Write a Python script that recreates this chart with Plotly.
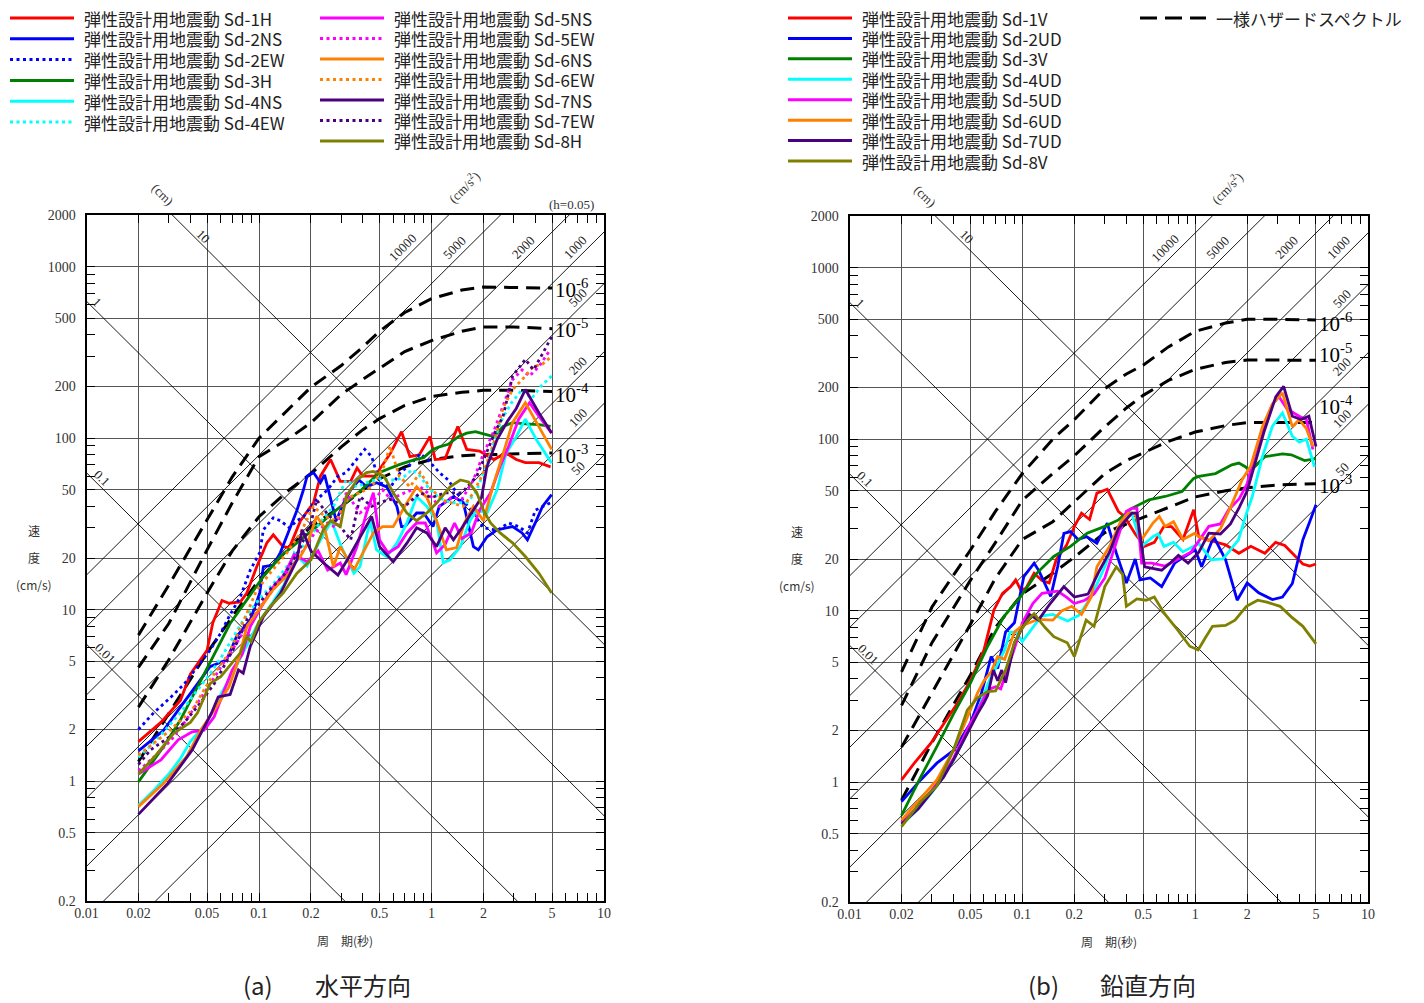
import math
import plotly.graph_objects as go

# screen size and the page's default body margin
SCREEN_W, SCREEN_H = 1424, 1003
BODY = 8
W, H = SCREEN_W - BODY, SCREEN_H - BODY

# ------------------------------------------------------------------ data
# uniform hazard spectra (period s, pseudo velocity cm/s)
hz_T = [0.02, 0.03, 0.05, 0.07, 0.1, 0.15, 0.2, 0.3, 0.4, 0.5, 0.7, 1.0, 1.5, 2.0, 3.0, 5.0]
hz_h_1e6 = [7.1, 13.9, 33.4, 59.5, 100, 150, 198, 265, 340, 420, 540, 650, 730, 760, 755, 750]
hz_h_1e5 = [4.6, 8.3, 22.3, 42, 78, 100, 123, 180, 220, 255, 320, 370, 420, 445, 445, 435]
hz_h_1e4 = [2.7, 5.1, 12.5, 22, 34.8, 50, 62, 89, 112, 130, 155, 175, 185, 190, 190, 187]
hz_h_1e3 = [1.3, 2.5, 5.6, 9.1, 14.9, 23, 30.5, 40, 50, 58, 68, 75, 79, 80, 81, 82]
hz_v_1e6 = [4.4, 10.5, 22.5, 38, 63, 100, 130, 197, 240, 270, 345, 425, 475, 500, 500, 495]
hz_v_1e5 = [2.8, 6.5, 15, 25, 44, 63, 80, 118, 152, 180, 220, 255, 280, 289, 289, 288]
hz_v_1e4 = [1.6, 3.3, 8.3, 15.5, 26, 33, 43, 63, 75, 83, 97, 110, 120, 125, 125, 125]
hz_v_1e3 = [0.785, 1.7, 4.2, 8, 12.5, 16.5, 20.5, 28.5, 32, 35, 40, 46, 50, 52, 54, 55]
hz_labels = ["10<sup>-6</sup>", "10<sup>-5</sup>", "10<sup>-4</sup>", "10<sup>-3</sup>"]

# horizontal spectra
sd1h_T = [0.02, 0.027, 0.035, 0.04, 0.05, 0.054, 0.061, 0.067, 0.078, 0.085, 0.097, 0.111, 0.121, 0.138, 0.15, 0.174, 0.207, 0.227, 0.26, 0.296, 0.34, 0.37, 0.4, 0.47, 0.58, 0.67, 0.75, 0.85, 0.98, 1.05, 1.2, 1.42, 1.6, 1.9, 2.3, 2.7, 3.1, 3.5, 4.2, 4.9]
sd1h_V = [1.70, 2.2, 2.95, 4.2, 5.8, 8.4, 11.3, 10.9, 11.1, 12.5, 17.8, 24.5, 27.3, 23.3, 23, 33, 42, 60, 75, 56, 56, 67, 60, 60, 82, 109, 78, 80, 102, 75, 76, 117, 86, 84, 75, 82, 75, 72, 72, 68]
sd2ns_T = [0.02, 0.028, 0.035, 0.044, 0.052, 0.065, 0.074, 0.089, 0.101, 0.106, 0.121, 0.133, 0.148, 0.166, 0.181, 0.19, 0.207, 0.227, 0.24, 0.26, 0.28, 0.31, 0.34, 0.38, 0.42, 0.48, 0.55, 0.63, 0.67, 0.7, 0.82, 0.9, 1.02, 1.11, 1.34, 1.53, 1.64, 1.75, 1.87, 2.1, 2.4, 2.95, 3.35, 3.6, 4.05, 4.4, 4.97]
sd2ns_V = [1.5, 1.98, 2.7, 3.7, 4.65, 5.1, 6.95, 8.7, 12.5, 17.8, 18.2, 21.5, 28, 38, 50, 60, 63, 55, 61, 44, 33, 42, 50, 57, 52, 55, 52, 40, 30.5, 30.5, 36.6, 36.6, 30.5, 40, 45.6, 42, 30.5, 23.3, 22.3, 26.6, 29.2, 30.5, 28, 25.5, 33, 40, 46.8]
sd2ew_T = [0.02, 0.0245, 0.031, 0.037, 0.044, 0.052, 0.06, 0.067, 0.078, 0.089, 0.101, 0.106, 0.121, 0.133, 0.15, 0.166, 0.181, 0.215, 0.25, 0.287, 0.32, 0.37, 0.41, 0.45, 0.5, 0.58, 0.66, 0.75, 0.86, 0.95, 1.11, 1.25, 1.4, 1.75, 2.0, 2.4, 2.8, 3.2, 3.6, 4.0, 4.9]
sd2ew_V = [2.0, 2.5, 3.1, 3.7, 4.65, 5.8, 7.3, 9.1, 11.9, 17, 21.5, 29.2, 34.3, 33, 30, 33, 34.8, 43.6, 50, 60, 63, 75, 86, 78, 55, 52, 63, 70, 81, 75, 63, 57, 48, 36.6, 30, 29, 32, 30.5, 28, 38, 42]
sd3h_T = [0.02, 0.028, 0.035, 0.044, 0.055, 0.068, 0.085, 0.106, 0.133, 0.166, 0.216, 0.28, 0.385, 0.5, 0.65, 0.8, 0.9, 1.02, 1.11, 1.25, 1.43, 1.6, 1.8, 2.0, 2.3, 2.6, 2.95, 3.5, 4.2, 4.9]
sd3h_V = [0.99, 1.59, 2.27, 3.55, 5.56, 8.3, 11.4, 15.6, 20.4, 24.4, 30.5, 38, 49, 63, 70, 75, 77, 86, 89, 92, 102, 107, 109, 106, 102, 117, 123, 121, 120, 117]
sd4ns_T = [0.02, 0.025, 0.03, 0.035, 0.04, 0.05, 0.06, 0.07, 0.08, 0.09, 0.1, 0.12, 0.14, 0.16, 0.19, 0.22, 0.263, 0.3, 0.355, 0.385, 0.44, 0.48, 0.55, 0.63, 0.72, 0.82, 0.94, 1.07, 1.17, 1.28, 1.47, 1.67, 1.83, 2.1, 2.4, 2.7, 3.1, 3.5, 4.05, 4.97]
sd4ns_V = [0.72, 0.9, 1.1, 1.35, 1.7, 2.2, 3.2, 4.2, 5.5, 7, 8.5, 11, 14, 21.4, 18, 24, 33, 23.3, 16.3, 17.8, 33, 22.3, 20.4, 24.4, 32, 45.6, 40, 33, 18.7, 19.5, 23.3, 33, 38, 36.6, 50, 81, 102, 129, 98, 71.5]
sd4ew_T = [0.02, 0.025, 0.03, 0.035, 0.04, 0.05, 0.06, 0.07, 0.08, 0.09, 0.1, 0.12, 0.14, 0.17, 0.2, 0.23, 0.27, 0.32, 0.37, 0.42, 0.5, 0.57, 0.63, 0.7, 0.77, 0.86, 0.95, 1.1, 1.3, 1.6, 1.8, 2.1, 2.5, 2.9, 3.35, 3.8, 4.3, 4.97]
sd4ew_V = [1.38, 1.7, 2.1, 2.5, 3.0, 4.0, 5.2, 6.8, 8.5, 10, 11.5, 14, 17, 22, 27, 33, 40, 57, 52, 55, 58, 57, 57, 60, 65.5, 60, 52, 45, 42, 42, 48, 70, 123, 160, 192, 170, 200, 230]
sd5ns_T = [0.02, 0.027, 0.034, 0.041, 0.048, 0.055, 0.064, 0.07, 0.08, 0.089, 0.106, 0.121, 0.14, 0.16, 0.19, 0.22, 0.25, 0.296, 0.32, 0.37, 0.42, 0.46, 0.5, 0.56, 0.64, 0.72, 0.82, 0.92, 1.0, 1.07, 1.2, 1.36, 1.5, 1.7, 1.9, 2.2, 2.5, 2.8, 3.2, 3.7, 4.2, 4.97]
sd5ns_V = [1.1, 1.33, 1.74, 1.94, 1.98, 2.37, 3.55, 4.45, 5.5, 7.96, 10.9, 13.6, 16, 21, 19, 22, 17, 18.7, 16, 23.3, 36.6, 48, 25.5, 21.4, 23.3, 28, 32, 32, 26, 21.4, 24, 32, 26, 28, 38, 48, 68.5, 89.6, 129, 161, 134, 107]
sd5ew_T = [0.02, 0.025, 0.031, 0.037, 0.046, 0.055, 0.065, 0.075, 0.085, 0.1, 0.12, 0.15, 0.18, 0.21, 0.25, 0.28, 0.32, 0.385, 0.45, 0.52, 0.58, 0.7, 0.86, 0.95, 1.11, 1.3, 1.5, 1.75, 2.0, 2.3, 2.6, 2.95, 3.35, 3.7, 4.2, 4.9]
sd5ew_V = [1.15, 1.4, 1.74, 2.2, 3.05, 4.0, 5.2, 6.5, 8, 10, 13, 17, 22, 28, 32, 30, 48, 36.6, 42, 50, 44, 48, 52, 48, 40, 45, 44, 57, 81, 110, 153, 219, 250, 230, 262, 330]
sd6ns_T = [0.02, 0.028, 0.038, 0.046, 0.055, 0.067, 0.076, 0.085, 0.1, 0.12, 0.15, 0.16, 0.174, 0.19, 0.216, 0.24, 0.27, 0.296, 0.355, 0.43, 0.46, 0.52, 0.6, 0.7, 0.82, 0.94, 1.07, 1.22, 1.4, 1.55, 1.75, 2.0, 2.3, 2.6, 2.95, 3.5, 4.05, 4.97]
sd6ns_V = [0.71, 0.97, 1.39, 1.98, 2.6, 3.55, 5.1, 7.96, 10, 13, 16.3, 18.7, 20.4, 24, 35, 30, 17.8, 23.3, 17, 24.4, 28, 30.5, 30.5, 40, 52, 45, 33, 22.3, 23, 32, 40, 33, 54.8, 81, 123, 161, 123, 86]
sd6ew_T = [0.02, 0.025, 0.03, 0.035, 0.041, 0.052, 0.067, 0.085, 0.097, 0.12, 0.145, 0.174, 0.207, 0.24, 0.28, 0.33, 0.385, 0.45, 0.53, 0.575, 0.65, 0.75, 0.86, 1.0, 1.2, 1.53, 1.75, 2.0, 2.3, 2.6, 2.95, 3.35, 3.9, 4.4, 4.97]
sd6ew_V = [1.42, 1.7, 1.95, 2.25, 2.6, 3.9, 5.56, 9.5, 13, 17, 21.4, 28, 40, 35, 33, 45, 48, 52, 68.5, 89.6, 60, 52, 63, 50, 43, 40, 48, 62.9, 94, 150, 192, 219, 262, 270, 300]
sd7ns_T = [0.02, 0.0296, 0.041, 0.053, 0.058, 0.068, 0.076, 0.081, 0.089, 0.106, 0.133, 0.166, 0.178, 0.2, 0.237, 0.287, 0.33, 0.38, 0.45, 0.5, 0.6, 0.72, 0.82, 0.94, 1.07, 1.2, 1.34, 1.5, 1.75, 1.95, 2.1, 2.4, 2.75, 3.1, 3.5, 4.2, 4.97]
sd7ns_V = [0.64, 0.97, 1.52, 2.49, 3.1, 3.2, 4.45, 4.26, 6.1, 9.1, 12.4, 19.5, 29.2, 22, 18.7, 15.9, 20, 26, 34.9, 23.3, 19, 24.4, 30, 28, 23.3, 30, 25.5, 30, 38, 45, 68.5, 98, 125, 149, 192, 140, 107]
sd7ew_T = [0.02, 0.0235, 0.03, 0.037, 0.045, 0.055, 0.065, 0.075, 0.085, 0.097, 0.115, 0.14, 0.17, 0.2, 0.216, 0.25, 0.3, 0.34, 0.385, 0.45, 0.5, 0.575, 0.7, 0.86, 1.0, 1.2, 1.5, 1.83, 2.1, 2.35, 2.6, 2.95, 3.5, 3.9, 4.4, 4.97]
sd7ew_V = [1.25, 1.52, 1.8, 2.2, 2.8, 3.7, 5.0, 6.5, 8.7, 10.4, 13, 16, 22, 32, 43.6, 36, 30, 25.5, 45.6, 40, 42, 44, 40, 48, 45, 48, 48, 60, 85, 110, 134, 230, 288, 250, 310, 390]
sd8h_T = [0.02, 0.025, 0.032, 0.04, 0.044, 0.052, 0.06, 0.067, 0.078, 0.085, 0.09, 0.1, 0.116, 0.138, 0.166, 0.2, 0.236, 0.26, 0.296, 0.32, 0.37, 0.42, 0.46, 0.53, 0.6, 0.72, 0.82, 0.94, 1.07, 1.28, 1.47, 1.64, 1.83, 2.0, 2.2, 2.5, 2.95, 3.5, 4.2, 4.97]
sd8h_V = [1.1, 1.4, 1.9, 2.2, 2.5, 3.7, 4.06, 4.65, 5.6, 6.95, 6.5, 8.5, 10.4, 12.5, 16.3, 19.5, 29.2, 33, 30.5, 45.6, 57, 62.9, 64, 60, 48, 36.6, 33, 36.6, 41.8, 52, 57, 55.5, 48, 38, 32, 28, 24.5, 20.4, 16.3, 12.5]

# vertical spectra
sd1v_T = [0.02, 0.0237, 0.0295, 0.0353, 0.0421, 0.0503, 0.06, 0.0685, 0.0768, 0.0856, 0.0915, 0.098, 0.105, 0.117, 0.13, 0.143, 0.157, 0.18, 0.2, 0.22, 0.245, 0.27, 0.31, 0.36, 0.39, 0.45, 0.51, 0.58, 0.66, 0.73, 0.85, 0.98, 1.05, 1.2, 1.5, 1.79, 2.1, 2.53, 2.92, 3.3, 3.8, 4.2, 4.6, 5.0]
sd1v_V = [1.03, 1.29, 1.68, 2.2, 2.88, 3.94, 5.9, 10.1, 12.6, 13.8, 15.1, 13.2, 13.5, 16.5, 15, 14.5, 19.8, 24, 30.9, 37, 34, 48.4, 51, 37.8, 35.4, 28, 23.7, 25, 31, 30.9, 26, 38.7, 27, 25.8, 24.2, 21.6, 23.7, 21.6, 25, 24, 20.8, 18.7, 18.2, 18.7]
sd2ud_T = [0.02, 0.0258, 0.032, 0.04, 0.05, 0.058, 0.066, 0.072, 0.08, 0.09, 0.102, 0.117, 0.125, 0.146, 0.16, 0.174, 0.19, 0.21, 0.235, 0.27, 0.31, 0.35, 0.4, 0.45, 0.48, 0.55, 0.64, 0.76, 0.87, 1.0, 1.09, 1.28, 1.5, 1.75, 2.0, 2.33, 2.8, 3.2, 3.65, 4.2, 4.6, 5.0]
sd2ud_V = [0.77, 1.03, 1.29, 1.53, 2.2, 3.3, 5.4, 4.6, 7.5, 8.5, 15.8, 18.9, 17, 12.1, 18, 28.2, 28.9, 26, 27, 24.7, 32.4, 21.6, 14.5, 20, 15.1, 15.5, 13.8, 18.9, 20.7, 22.6, 18, 27, 19.8, 11.5, 14.5, 12.7, 11.6, 12.0, 14.4, 25.9, 33, 41.4]
sd3v_T = [0.02, 0.0258, 0.032, 0.04, 0.05, 0.063, 0.078, 0.098, 0.121, 0.152, 0.19, 0.237, 0.3, 0.36, 0.43, 0.54, 0.67, 0.84, 0.98, 1.05, 1.31, 1.63, 1.79, 1.95, 2.08, 2.53, 3.2, 3.6, 4.3, 5.0]
sd3v_V = [0.64, 1.07, 1.61, 2.5, 3.77, 6.2, 9.2, 12.1, 16.5, 20.7, 23.7, 28.3, 31, 33.8, 39.5, 44.3, 46.3, 49.5, 59, 60.6, 63, 70.8, 72.5, 69, 65, 79, 82, 81, 75, 77]
sd4ud_T = [0.02, 0.025, 0.03, 0.035, 0.04, 0.045, 0.05, 0.055, 0.06, 0.065, 0.07, 0.079, 0.085, 0.092, 0.1, 0.115, 0.129, 0.15, 0.183, 0.213, 0.25, 0.3, 0.35, 0.41, 0.43, 0.49, 0.57, 0.61, 0.66, 0.75, 0.85, 1.05, 1.24, 1.45, 1.78, 2.0, 2.14, 2.45, 2.8, 3.2, 3.65, 4.0, 4.4, 4.9]
sd4ud_V = [0.56, 0.7, 0.87, 1.07, 1.35, 1.7, 2.1, 2.6, 3.3, 4.0, 4.6, 5.9, 7.5, 7.5, 6.6, 8, 9.3, 9.5, 8.7, 9.4, 12, 18, 28, 37, 37, 23.7, 27, 28, 23.7, 25, 22, 24.6, 19.8, 20, 25.9, 38, 46.3, 79, 119, 142, 104, 96, 100, 69]
sd5ud_T = [0.02, 0.025, 0.03, 0.035, 0.04, 0.045, 0.05, 0.055, 0.06, 0.065, 0.07, 0.075, 0.08, 0.09, 0.1, 0.115, 0.13, 0.143, 0.16, 0.18, 0.2, 0.23, 0.26, 0.3, 0.35, 0.4, 0.43, 0.46, 0.49, 0.56, 0.67, 0.8, 0.95, 1.2, 1.4, 1.56, 1.8, 2.0, 2.2, 2.5, 2.8, 3.05, 3.4, 4.0, 4.4, 4.8]
sd5ud_V = [0.58, 0.72, 0.9, 1.1, 1.38, 1.75, 2.2, 2.6, 3.1, 3.5, 3.6, 3.5, 4.2, 6, 8.5, 11, 12.6, 12.8, 13, 12, 11, 11.5, 12.5, 15.5, 25, 38, 39.5, 39.6, 18.9, 18.9, 18.2, 20, 22, 31, 32, 38.7, 45, 55, 80, 120, 160, 177, 150, 136, 130, 87]
sd6ud_T = [0.02, 0.025, 0.032, 0.04, 0.048, 0.055, 0.06, 0.066, 0.072, 0.079, 0.09, 0.1, 0.124, 0.15, 0.17, 0.193, 0.22, 0.25, 0.27, 0.32, 0.37, 0.41, 0.45, 0.49, 0.57, 0.62, 0.67, 0.75, 0.85, 0.99, 1.05, 1.2, 1.4, 1.6, 1.87, 2.1, 2.45, 2.8, 3.2, 3.65, 4.0, 4.4, 4.8]
sd6ud_V = [0.6, 0.78, 1.03, 1.54, 2.4, 3.3, 3.9, 4.4, 5.4, 5.2, 7.5, 8.2, 8.9, 8.8, 10, 10.6, 9.5, 12, 18, 23.7, 33, 37, 37, 25.9, 32.4, 35.4, 31, 33, 26, 28.2, 27, 25.5, 30, 40, 58, 70, 118, 160, 186, 118, 130, 115, 90.6]
sd7ud_T = [0.02, 0.025, 0.03, 0.035, 0.04, 0.045, 0.05, 0.055, 0.06, 0.063, 0.068, 0.072, 0.076, 0.08, 0.09, 0.1, 0.11, 0.124, 0.145, 0.174, 0.2, 0.24, 0.28, 0.32, 0.36, 0.43, 0.46, 0.51, 0.64, 0.72, 0.8, 0.91, 1.05, 1.2, 1.4, 1.6, 1.8, 2.0, 2.2, 2.5, 2.93, 3.25, 3.65, 4.1, 4.55, 5.0]
sd7ud_V = [0.57, 0.7, 0.88, 1.07, 1.35, 1.7, 2.1, 2.5, 2.9, 3.2, 4.5, 3.9, 4.5, 3.8, 6.5, 8, 9.5, 8.8, 11, 13.8, 12, 12.5, 17.2, 22, 30, 37, 37, 18, 17.2, 19, 21, 18.9, 21.9, 28.3, 28, 32, 40, 50, 70, 110, 177, 203, 136, 130, 136, 90.6]
sd8v_T = [0.02, 0.0258, 0.032, 0.04, 0.048, 0.055, 0.063, 0.07, 0.08, 0.09, 0.098, 0.108, 0.117, 0.135, 0.152, 0.182, 0.2, 0.234, 0.26, 0.3, 0.35, 0.38, 0.4, 0.46, 0.52, 0.58, 0.66, 0.77, 0.93, 1.04, 1.15, 1.26, 1.5, 1.7, 1.98, 2.3, 2.6, 3.1, 3.6, 4.2, 5.0]
sd8v_V = [0.55, 0.77, 0.95, 1.54, 2.63, 3.1, 3.37, 3.4, 4.5, 6.5, 7.7, 8.8, 9.6, 8, 7.05, 6.5, 5.4, 8.8, 8.1, 13.8, 18, 16.3, 10.6, 11.7, 11.5, 12, 9.7, 8, 6.2, 5.9, 7, 8.1, 8.2, 8.8, 10.6, 11.5, 11.2, 10.6, 9.2, 8.1, 6.4]

# axes ticks
x_ticks = [0.01, 0.02, 0.05, 0.1, 0.2, 0.5, 1, 2, 5, 10]
x_ticktext = ["0.01", "0.02", "0.05", "0.1", "0.2", "0.5", "1", "2", "5", "10"]
y_ticks = [0.2, 0.5, 1, 2, 5, 10, 20, 50, 100, 200, 500, 1000, 2000]
y_ticktext = ["0.2", "0.5", "1", "2", "5", "10", "20", "50", "100", "200", "500", "1000", "2000"]
minor_digits = [3, 4, 6, 7, 8, 9]

# tripartite grid values
disp_cm = [0.01, 0.1, 1, 10]
disp_text = ["0.01", "0.1", "1", "10"]
acc_gal = [50, 100, 200, 500, 1000, 2000, 5000, 10000]
acc_text = ["50", "100", "200", "500", "1000", "2000", "5000", "10000"]

# series definitions
RED, BLUE, GREEN, CYAN, MAG, ORG, IND, OLV = ("#FF0000", "#0000FF", "#008000", "#00FFFF",
                                              "#FF00FF", "#FF8000", "#4B0082", "#808000")
JP = "弾性設計用地震動 "
series_h = [
    ("Sd-1H", sd1h_T, sd1h_V, RED, "solid"),
    ("Sd-2NS", sd2ns_T, sd2ns_V, BLUE, "solid"),
    ("Sd-2EW", sd2ew_T, sd2ew_V, BLUE, "dot"),
    ("Sd-3H", sd3h_T, sd3h_V, GREEN, "solid"),
    ("Sd-4NS", sd4ns_T, sd4ns_V, CYAN, "solid"),
    ("Sd-4EW", sd4ew_T, sd4ew_V, CYAN, "dot"),
    ("Sd-5NS", sd5ns_T, sd5ns_V, MAG, "solid"),
    ("Sd-5EW", sd5ew_T, sd5ew_V, MAG, "dot"),
    ("Sd-6NS", sd6ns_T, sd6ns_V, ORG, "solid"),
    ("Sd-6EW", sd6ew_T, sd6ew_V, ORG, "dot"),
    ("Sd-7NS", sd7ns_T, sd7ns_V, IND, "solid"),
    ("Sd-7EW", sd7ew_T, sd7ew_V, IND, "dot"),
    ("Sd-8H", sd8h_T, sd8h_V, OLV, "solid"),
]
series_v = [
    ("Sd-1V", sd1v_T, sd1v_V, RED, "solid"),
    ("Sd-2UD", sd2ud_T, sd2ud_V, BLUE, "solid"),
    ("Sd-3V", sd3v_T, sd3v_V, GREEN, "solid"),
    ("Sd-4UD", sd4ud_T, sd4ud_V, CYAN, "solid"),
    ("Sd-5UD", sd5ud_T, sd5ud_V, MAG, "solid"),
    ("Sd-6UD", sd6ud_T, sd6ud_V, ORG, "solid"),
    ("Sd-7UD", sd7ud_T, sd7ud_V, IND, "solid"),
    ("Sd-8V", sd8v_T, sd8v_V, OLV, "solid"),
]
hazard_h = [hz_h_1e6, hz_h_1e5, hz_h_1e4, hz_h_1e3]
hazard_v = [hz_v_1e6, hz_v_1e5, hz_v_1e4, hz_v_1e3]
hazard_name = "一様ハザードスペクトル"

# ------------------------------------------------------------------ layout geometry (screen px)
XR = [-2.0, 1.0]
YR = [math.log10(0.2), math.log10(2000)]
PANELS = [
    dict(x0=86.5, x1=604.0, y0=215.0, y1=901.0, xa="x", ya="y"),
    dict(x0=849.5, x1=1368.0, y0=216.0, y1=902.0, xa="x2", ya="y2"),
]
DOT = "3px,3.5px"
HZ_DASH = "14px,8px"
SERIF = "Liberation Serif"
CJK = "Noto Sans CJK JP"


def dash_of(d):
    return DOT if d == "dot" else "solid"


def px_of(p, T, V):
    x = p["x0"] + (math.log10(T) - XR[0]) / (XR[1] - XR[0]) * (p["x1"] - p["x0"])
    y = p["y1"] - (math.log10(V) - YR[0]) / (YR[1] - YR[0]) * (p["y1"] - p["y0"])
    return x, y


def T_at_px(p, x):
    return 10 ** (XR[0] + (x - p["x0"]) / (p["x1"] - p["x0"]) * (XR[1] - XR[0]))


def paper(x, y):
    """screen pixel -> paper coordinate"""
    return (x - BODY) / W, 1 - (y - BODY) / H


def text(x, y, s, size, family, color="#222", angle=0, xanchor="center"):
    a, b = paper(x, y)
    annotations.append(dict(x=a, y=b, xref="paper", yref="paper", text=s, showarrow=False,
                            xanchor=xanchor, yanchor="middle", textangle=angle,
                            font=dict(family=family, size=size, color=color)))


fig = go.Figure()
annotations = []
shapes = []

T_span = [10 ** XR[0], 10 ** XR[1]]

for pi, p in enumerate(PANELS):
    xa, ya = p["xa"], p["ya"]
    for D in disp_cm:
        fig.add_trace(go.Scatter(x=T_span, y=[2 * math.pi * D / t for t in T_span], mode="lines",
                                 line=dict(color="black", width=0.9), xaxis=xa, yaxis=ya,
                                 showlegend=False, hoverinfo="skip"))
    for A in acc_gal:
        fig.add_trace(go.Scatter(x=T_span, y=[A * t / (2 * math.pi) for t in T_span], mode="lines",
                                 line=dict(color="black", width=0.9), xaxis=xa, yaxis=ya,
                                 showlegend=False, hoverinfo="skip"))
    hz = hazard_h if pi == 0 else hazard_v
    for vals in hz:
        fig.add_trace(go.Scatter(x=hz_T, y=vals, mode="lines",
                                 line=dict(color="black", width=3, dash=HZ_DASH),
                                 xaxis=xa, yaxis=ya, showlegend=False, hoverinfo="skip"))
    ser = series_h if pi == 0 else series_v
    for name, Ts, Vs, col, d in ser:
        fig.add_trace(go.Scatter(x=Ts, y=Vs, mode="lines", name=JP + name,
                                 line=dict(color=col, width=2.8, dash=dash_of(d)),
                                 xaxis=xa, yaxis=ya, showlegend=False))

    # labels of displacement lines
    disp_lab_x = [p["x0"] + 19, p["x0"] + 15, p["x0"] + 11, p["x0"] + 117]
    for D, txt, lx in zip(disp_cm, disp_text, disp_lab_x):
        T = T_at_px(p, lx)
        _, ly = px_of(p, T, 2 * math.pi * D / T)
        text(lx, ly - 10, txt, 13, SERIF, angle=45)
    # labels of acceleration lines
    for A, txt in zip(acc_gal, acc_text):
        if A >= 1000:
            ly_line = p["y0"] + 44
            V = 10 ** (YR[0] + (p["y1"] - ly_line) / (p["y1"] - p["y0"]) * (YR[1] - YR[0]))
            lx, _ = px_of(p, 2 * math.pi * V / A, V)
            lx, ly = lx - 2, ly_line - 12
        else:
            lx = p["x1"] - 26
            T = T_at_px(p, lx)
            _, ly = px_of(p, T, A * T / (2 * math.pi))
            ly -= 12
        text(lx, ly, txt, 13, SERIF, angle=-45)
    # hazard labels
    offs = [0, 0, 2, 2] if pi == 0 else [2, -7, -17, 1]
    for vals, txt, o in zip(hz, hz_labels, offs):
        _, ly = px_of(p, hz_T[-1], vals[-1])
        text(p["x1"] - 51, ly + o, txt, 21, SERIF, color="black", xanchor="left")
    # unit labels
    text(p["x0"] + 76, p["y0"] - 20, "(cm)", 13, SERIF, "#333", 45)
    text(p["x0"] + 377, p["y0"] - 28, "(cm/s<sup>2</sup>)", 13, SERIF, "#333", -45)
    # y title (stacked)
    for txt, dy in [("速", 315), ("度", 342), ("(cm/s)", 369)]:
        text(p["x0"] - 53, p["y0"] + dy, txt, 12, CJK, "#333")
    # x title
    text((p["x0"] + p["x1"]) / 2, p["y1"] + 39, "周　期(秒)", 12, CJK, "#333")

text(571, 204, "(h=0.05)", 13, SERIF, "#333")

# sub captions
for t, cx in [("(a)", 258), ("水平方向", 363), ("(b)", 1043), ("鉛直方向", 1148)]:
    text(cx, 984, t, 24, CJK, "#222")


# legends (drawn from the same series definitions)
def legend_item(x_line0, y, name, col, dash, width=3, length=64):
    a0, b0 = paper(x_line0, y)
    a1, _ = paper(x_line0 + length, y)
    shapes.append(dict(type="line", xref="paper", yref="paper", x0=a0, x1=a1, y0=b0, y1=b0,
                       line=dict(color=col, width=width, dash=dash)))
    text(x_line0 + length + 8, y, name, 17, CJK, "#222", xanchor="left")


def legend_column(items, x_line0, y_first, y_last):
    step = (y_last - y_first) / max(len(items) - 1, 1)
    for i, (name, _, _, col, d) in enumerate(items):
        legend_item(x_line0, y_first + i * step, JP + name, col, dash_of(d))


legend_column(series_h[:6], 10, 18, 122)
legend_column(series_h[6:], 320, 18, 141)
legend_column(series_v, 788, 18, 161)
legend_item(1140, 18, hazard_name, "black", "17px,8px", width=3, length=66)


def axis(p, horizontal, anchor):
    if horizontal:
        dom = [(p["x0"] - BODY) / W, (p["x1"] - BODY) / W]
        rng, tv, tt = XR, x_ticks, x_ticktext
        lo, hi = -2, 1
    else:
        dom = [1 - (p["y1"] - BODY) / H, 1 - (p["y0"] - BODY) / H]
        rng, tv, tt = YR, y_ticks, y_ticktext
        lo, hi = -1, 4
    minor_vals = [k * 10 ** e for e in range(lo, hi) for k in minor_digits
                  if rng[0] <= math.log10(k * 10 ** e) <= rng[1]]
    return dict(type="log", domain=dom, range=rng, tickmode="array", tickvals=tv, ticktext=tt,
                showgrid=True, gridcolor="#555555", gridwidth=1.4,
                ticks="inside", ticklen=8, tickwidth=1.3, tickcolor="black",
                showline=True, linecolor="black", linewidth=2, mirror="allticks",
                minor=dict(tickvals=minor_vals, ticks="inside", ticklen=8, tickwidth=1.3,
                           tickcolor="black", showgrid=False),
                tickfont=dict(family=SERIF, size=14, color="#333"),
                ticklabelstandoff=-2 if horizontal else 6,
                automargin=False, anchor=anchor, zeroline=False, fixedrange=True)


fig.update_layout(
    template="none",
    width=W, height=H, margin=dict(l=0, r=0, t=0, b=0, pad=0), autosize=False,
    paper_bgcolor="white", plot_bgcolor="white", showlegend=False,
    xaxis=axis(PANELS[0], True, "y"), yaxis=axis(PANELS[0], False, "x"),
    xaxis2=axis(PANELS[1], True, "y2"), yaxis2=axis(PANELS[1], False, "x2"),
    annotations=annotations, shapes=shapes,
)

fig.write_html("out.html")
